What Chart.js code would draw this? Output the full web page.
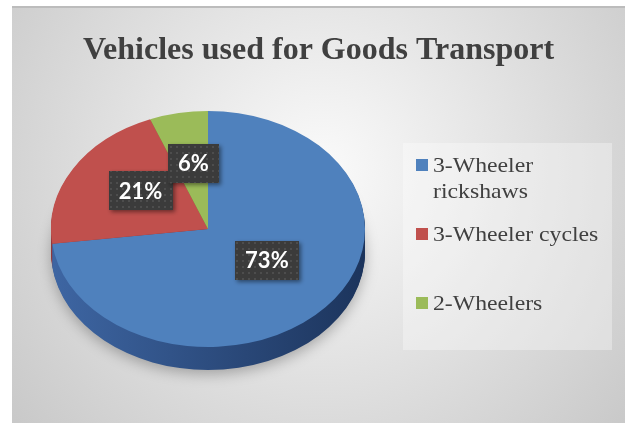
<!DOCTYPE html>
<html>
<head>
<meta charset="utf-8">
<title>Vehicles used for Goods Transport</title>
<script src="https://cdn.jsdelivr.net/npm/chart.js@4.4.1/dist/chart.umd.min.js"></script>
<style>
  html, body { margin: 0; padding: 0; background: #fff; }
  #wrap { width: 625px; height: 423px; }
</style>
</head>
<body>
<div id="wrap"><canvas id="pie" width="625" height="423"></canvas></div>
<script>
const chartTitle = 'Vehicles used for Goods Transport';
const categories = ['3-Wheeler rickshaws', '3-Wheeler cycles', '2-Wheelers'];
const shares = [73, 21, 6];
const sliceColors = ['#4f81bd', '#c0504d', '#9bbb59'];
// side wall gradient (left -> right) for each slice
const wallColors = [['#3e66a3', '#1c345c'], ['#93383a', '#6a2422'], ['#77953f', '#56702c']];

// tilted disc geometry on the canvas
const disc = { cx: 208, cy: 229, rx: 157, ry: 118, depth: 23, labelLift: 8 };

function mapDisc(ctx, arc, drop) {
  ctx.translate(disc.cx, disc.cy + drop);
  ctx.scale(disc.rx / arc.outerRadius, disc.ry / arc.outerRadius);
  ctx.translate(-arc.x, -arc.y);
}

function toScreen(arc, p) {
  return {
    x: disc.cx + (p.x - arc.x) * disc.rx / arc.outerRadius,
    y: disc.cy + (p.y - arc.y) * disc.ry / arc.outerRadius - disc.labelLift
  };
}

// little dotted fill used behind the percentage labels
const dots = document.createElement('canvas');
dots.width = dots.height = 6;
(function () {
  const d = dots.getContext('2d');
  d.fillStyle = '#3b3b3b';
  d.fillRect(0, 0, 6, 6);
  d.fillStyle = '#4d4d4d';
  d.fillRect(2, 2, 2, 2);
})();

const panel = {
  id: 'panel',
  beforeDraw(chart) {
    const { ctx, width, height } = chart;
    ctx.save();
    ctx.fillStyle = '#ffffff';
    ctx.fillRect(0, 0, width, height);
    const g = ctx.createRadialGradient(322, 170, 10, 322, 170, 420);
    g.addColorStop(0, '#f9f9f9');
    g.addColorStop(1, '#c6c6c6');
    ctx.fillStyle = g;
    ctx.fillRect(12, 6, width - 12, height - 6);
    ctx.fillStyle = '#bcbcbc';
    ctx.fillRect(12, 6, width - 12, 2);
    ctx.restore();
  }
};

const tilted = {
  id: 'tilted',
  beforeDatasetsDraw(chart) {
    const { ctx } = chart;
    const arcs = chart.getDatasetMeta(0).data;
    const ref = arcs[0].getProps(['x', 'y', 'outerRadius'], true);

    // side wall: stack the slices downwards, darker
    for (let d = disc.depth; d >= 1; d--) {
      ctx.save();
      mapDisc(ctx, ref, d);
      if (d === disc.depth) {
        ctx.shadowColor = 'rgba(0,0,0,0.28)';
        ctx.shadowBlur = 14;
        ctx.shadowOffsetY = 4;
      }
      arcs.forEach((arc, i) => {
        const a = arc.getProps(['startAngle', 'endAngle'], true);
        const g = ctx.createLinearGradient(ref.x - ref.outerRadius, 0, ref.x + ref.outerRadius, 0);
        g.addColorStop(0, wallColors[i][0]);
        g.addColorStop(1, wallColors[i][1]);
        ctx.fillStyle = g;
        ctx.beginPath();
        ctx.moveTo(ref.x, ref.y);
        ctx.arc(ref.x, ref.y, ref.outerRadius, a.startAngle, a.endAngle);
        ctx.closePath();
        ctx.fill();
      });
      ctx.restore();
    }

    ctx.save();
    mapDisc(ctx, ref, 0);
  },
  afterDatasetsDraw(chart) {
    const { ctx } = chart;
    ctx.restore();

    const arcs = chart.getDatasetMeta(0).data;
    const ref = arcs[0].getProps(['x', 'y', 'outerRadius'], true);
    const pattern = ctx.createPattern(dots, 'repeat');
    ctx.save();
    ctx.font = 'bold 22px Lato, sans-serif';
    ctx.textAlign = 'center';
    ctx.textBaseline = 'middle';
    arcs.forEach((arc, i) => {
      const p = toScreen(ref, arc.tooltipPosition(true));
      const text = shares[i] + '%';
      const w = ctx.measureText(text).width + 20;
      const h = 39;
      ctx.save();
      ctx.shadowColor = 'rgba(0,0,0,0.45)';
      ctx.shadowBlur = 4;
      ctx.shadowOffsetX = 2;
      ctx.shadowOffsetY = 2;
      ctx.fillStyle = pattern;
      ctx.fillRect(Math.round(p.x - w / 2), Math.round(p.y - h / 2), Math.round(w), h);
      ctx.restore();
      ctx.fillStyle = '#ffffff';
      ctx.fillText(text, p.x, p.y + 1);
    });
    ctx.restore();
  }
};

function wrapWords(ctx, text, maxWidth) {
  const words = text.split(' ');
  const lines = [];
  let line = '';
  words.forEach(w => {
    const test = line ? line + ' ' + w : w;
    if (line && ctx.measureText(test).width > maxWidth) {
      lines.push(line);
      line = w;
    } else {
      line = test;
    }
  });
  lines.push(line);
  return lines;
}

const sideLegend = {
  id: 'sideLegend',
  afterDraw(chart) {
    const { ctx } = chart;
    const box = { x: 403, y: 143, w: 209, h: 207 };
    const baselines = [172, 241, 310];
    const stretch = 1.13;
    ctx.save();
    ctx.fillStyle = 'rgba(255,255,255,0.32)';
    ctx.fillRect(box.x, box.y, box.w, box.h);
    ctx.font = '21px "Liberation Serif", "Times New Roman", serif';
    ctx.textBaseline = 'alphabetic';
    categories.forEach((name, i) => {
      ctx.fillStyle = sliceColors[i];
      ctx.fillRect(416, baselines[i] - 13, 12, 12);
      ctx.fillStyle = '#404040';
      wrapWords(ctx, name, 172 / stretch).forEach((ln, j) => {
        ctx.save();
        ctx.translate(433, baselines[i] + j * 26);
        ctx.scale(stretch, 1);
        ctx.fillText(ln, 0, 0);
        ctx.restore();
      });
    });
    ctx.restore();
  }
};

new Chart(document.getElementById('pie'), {
  type: 'pie',
  data: {
    labels: categories,
    datasets: [{
      data: shares,
      backgroundColor: sliceColors,
      borderWidth: 0
    }]
  },
  options: {
    responsive: false,
    animation: false,
    layout: { padding: { left: 12, top: 6, right: 0, bottom: 20 } },
    plugins: {
      legend: { display: false },
      tooltip: { enabled: false },
      title: {
        display: true,
        text: chartTitle,
        color: '#404040',
        font: { family: '"Liberation Serif", "Times New Roman", serif', size: 32, weight: 'bold' },
        padding: { top: 26, bottom: 10 }
      }
    }
  },
  plugins: [panel, tilted, sideLegend]
});
</script>
</body>
</html>
